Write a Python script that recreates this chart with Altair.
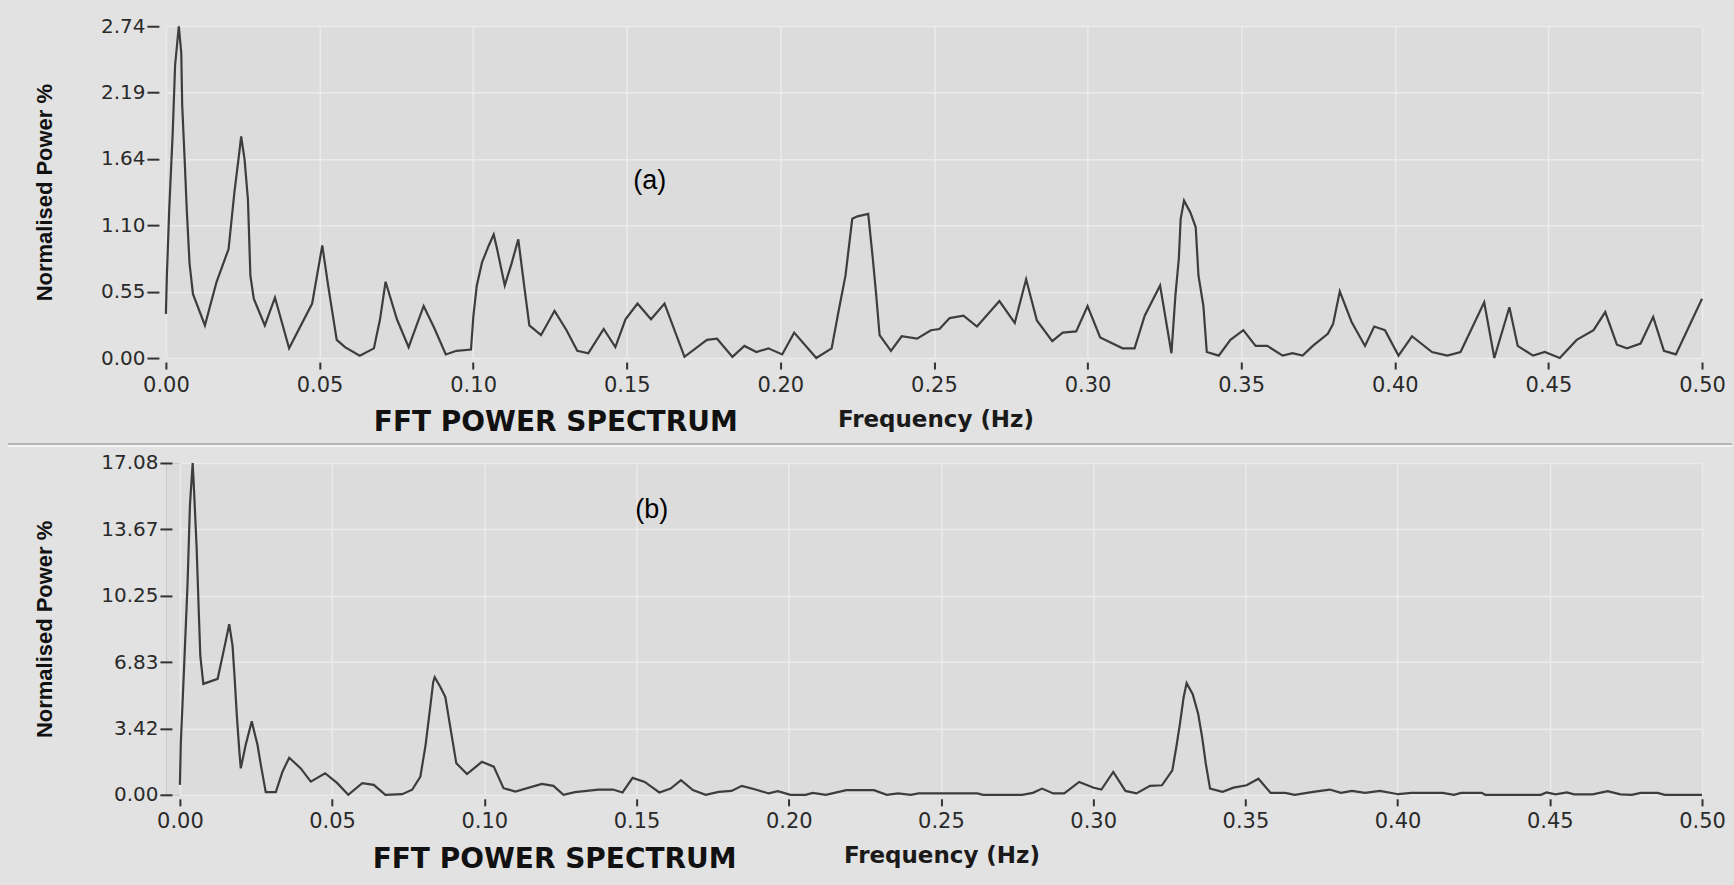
import altair as alt
import pandas as pd

# ---------------- data ----------------
freq_a = [0.0, 0.0003, 0.0011, 0.0022, 0.003, 0.0042, 0.005, 0.0053, 0.0061, 0.0068,
          0.0077, 0.0088, 0.0127, 0.0165, 0.0204, 0.0223, 0.0239, 0.0245, 0.0256, 0.0267,
          0.0275, 0.0286, 0.0322, 0.0355, 0.0401, 0.0476, 0.0509, 0.0528, 0.0556, 0.0583,
          0.0631, 0.0677, 0.0697, 0.0715, 0.0752, 0.0790, 0.0839, 0.0875, 0.0911, 0.0946,
          0.0993, 0.1001, 0.1012, 0.1029, 0.1051, 0.1067, 0.1078, 0.1103, 0.1125, 0.1147,
          0.1166, 0.1183, 0.1221, 0.1265, 0.1304, 0.1339, 0.1375, 0.1425, 0.1463, 0.1496,
          0.1535, 0.1579, 0.1623, 0.1688, 0.1761, 0.1794, 0.1844, 0.1883, 0.1922, 0.1961,
          0.2006, 0.2045, 0.2117, 0.2167, 0.2189, 0.2212, 0.2234, 0.2251, 0.2286, 0.2301,
          0.2312, 0.2323, 0.2360, 0.2395, 0.2445, 0.2490, 0.2518, 0.2551, 0.2596, 0.2640,
          0.2713, 0.2763, 0.2800, 0.2835, 0.2885, 0.2919, 0.2963, 0.3000, 0.3041, 0.3114,
          0.3153, 0.3186, 0.3236, 0.3273, 0.3286, 0.3297, 0.3303, 0.3314, 0.3335, 0.3352,
          0.3361, 0.3377, 0.3388, 0.3427, 0.3465, 0.3507, 0.3547, 0.3585, 0.3635, 0.3667,
          0.3700, 0.3733, 0.3782, 0.3799, 0.3821, 0.3859, 0.3903, 0.3933, 0.3968, 0.4012,
          0.4056, 0.4121, 0.4171, 0.4214, 0.4291, 0.4324, 0.4373, 0.4400, 0.4450, 0.4488,
          0.4537, 0.4592, 0.4647, 0.4685, 0.4723, 0.4756, 0.4800, 0.4841, 0.4876, 0.4915,
          0.5000]
power_a = [0.365, 0.67, 1.24, 1.85, 2.42, 2.74, 2.52, 2.09, 1.64, 1.22,
           0.78, 0.53, 0.27, 0.63, 0.90, 1.37, 1.70, 1.83, 1.64, 1.31,
           0.68, 0.49, 0.27, 0.50, 0.08, 0.45, 0.93, 0.60, 0.15, 0.09,
           0.02, 0.08, 0.32, 0.63, 0.32, 0.09, 0.43, 0.24, 0.03, 0.06,
           0.07, 0.35, 0.60, 0.79, 0.93, 1.02, 0.90, 0.60, 0.78, 0.98,
           0.60, 0.27, 0.19, 0.39, 0.23, 0.06, 0.04, 0.24, 0.09, 0.32,
           0.45, 0.32, 0.45, 0.01, 0.15, 0.16, 0.01, 0.10, 0.05, 0.08,
           0.03, 0.21, 0.00, 0.08, 0.38, 0.68, 1.15, 1.17, 1.19, 0.82,
           0.52, 0.19, 0.06, 0.18, 0.16, 0.23, 0.24, 0.33, 0.35, 0.26,
           0.47, 0.29, 0.65, 0.31, 0.14, 0.21, 0.22, 0.43, 0.17, 0.08,
           0.08, 0.35, 0.60, 0.04, 0.52, 0.82, 1.15, 1.30, 1.20, 1.08,
           0.68, 0.43, 0.05, 0.02, 0.15, 0.23, 0.10, 0.10, 0.02, 0.04,
           0.02, 0.10, 0.20, 0.28, 0.55, 0.30, 0.10, 0.26, 0.23, 0.02,
           0.18, 0.05, 0.02, 0.05, 0.46, 0.00, 0.42, 0.10, 0.02, 0.05,
           0.00, 0.15, 0.23, 0.38, 0.11, 0.08, 0.12, 0.34, 0.06, 0.03,
           0.49]

freq_b = [0.0, 0.0003, 0.0014, 0.0025, 0.0033, 0.0042, 0.0047, 0.0055, 0.0061, 0.0067,
          0.0077, 0.0124, 0.0145, 0.0162, 0.0173, 0.0180, 0.0187, 0.0195, 0.0200, 0.0216,
          0.0236, 0.0255, 0.0266, 0.0282, 0.0315, 0.0337, 0.0359, 0.0397, 0.0430, 0.0477,
          0.0517, 0.0553, 0.0599, 0.0637, 0.0675, 0.0730, 0.0763, 0.0790, 0.0807, 0.0823,
          0.0832, 0.0837, 0.0856, 0.0872, 0.0889, 0.0908, 0.0943, 0.0992, 0.1031, 0.1063,
          0.1102, 0.1189, 0.1227, 0.1260, 0.1298, 0.1375, 0.1423, 0.1454, 0.1487, 0.1527,
          0.1575, 0.1612, 0.1646, 0.1685, 0.1727, 0.1770, 0.1812, 0.1846, 0.1891, 0.1934,
          0.1964, 0.2006, 0.2055, 0.2079, 0.2122, 0.2189, 0.2280, 0.2322, 0.2359, 0.2401,
          0.2426, 0.2620, 0.2638, 0.2766, 0.2802, 0.2832, 0.2869, 0.2905, 0.2954, 0.3002,
          0.3027, 0.3066, 0.3106, 0.3142, 0.3187, 0.3226, 0.3260, 0.3273, 0.3285, 0.3297,
          0.3307, 0.3327, 0.3345, 0.3358, 0.3370, 0.3384, 0.3425, 0.3461, 0.3504, 0.3543,
          0.3583, 0.3631, 0.3662, 0.3723, 0.3777, 0.3814, 0.3850, 0.3893, 0.3942, 0.4002,
          0.4045, 0.4148, 0.4185, 0.4209, 0.4276, 0.4288, 0.4471, 0.4489, 0.4519, 0.4556,
          0.4580, 0.4641, 0.4690, 0.4732, 0.4769, 0.4799, 0.4854, 0.4878, 0.5000]
power_b = [0.51, 2.64, 6.65, 10.8, 14.9, 17.08, 15.5, 12.7, 9.9, 7.16,
           5.71, 5.97, 7.5, 8.78, 7.67, 5.97, 4.09, 2.30, 1.36, 2.56,
           3.78, 2.56, 1.53, 0.14, 0.14, 1.19, 1.91, 1.36, 0.68, 1.11,
           0.60, 0.00, 0.60, 0.51, 0.00, 0.03, 0.26, 0.94, 2.56, 4.60,
           5.80, 6.05, 5.54, 5.03, 3.41, 1.62, 1.07, 1.70, 1.45, 0.34,
           0.17, 0.56, 0.46, 0.00, 0.14, 0.27, 0.27, 0.12, 0.87, 0.66,
           0.12, 0.32, 0.75, 0.24, 0.00, 0.15, 0.20, 0.46, 0.27, 0.07,
           0.19, 0.00, 0.00, 0.10, 0.00, 0.24, 0.24, 0.00, 0.07, 0.00,
           0.07, 0.07, 0.00, 0.00, 0.10, 0.32, 0.07, 0.07, 0.66, 0.36,
           0.27, 1.18, 0.20, 0.07, 0.46, 0.49, 1.26, 2.45, 3.65, 5.01,
           5.75, 5.18, 4.16, 2.96, 1.60, 0.32, 0.15, 0.37, 0.49, 0.83,
           0.10, 0.10, 0.00, 0.15, 0.27, 0.10, 0.20, 0.10, 0.20, 0.03,
           0.10, 0.10, 0.00, 0.10, 0.10, 0.00, 0.00, 0.12, 0.02, 0.12,
           0.02, 0.02, 0.19, 0.02, 0.00, 0.10, 0.10, 0.00, 0.00]

x_ticks = [0.00, 0.05, 0.10, 0.15, 0.20, 0.25, 0.30, 0.35, 0.40, 0.45, 0.50]
y_ticks_a = [0.0, 0.548, 1.096, 1.644, 2.192, 2.74]
y_ticks_b = [0.0, 3.4168, 6.8336, 10.2504, 13.6672, 17.084]

panel_labels = ["(a)", "(b)"]
panel_label_freq = [0.1575, 0.155]
panel_label_power = [1.46, 14.67]
fft_title = "FFT POWER SPECTRUM"
fft_title_freq = [0.1269, 0.1231]
x_title = "Frequency (Hz)"
y_title = "Normalised Power %"

LINE = "#3d3d3d"
PLOT_BG = "#dcdcdc"
PANEL_BG = "#e2e2e2"
GRID = "#ebebeb"
W = 1537


def panel(freq, power, yticks, ymax, x_start, height, y_off,
          label, label_f, label_p, fft_f, xtitle_center, separator=False):
    df = pd.DataFrame({"f": freq, "p": power})
    x_off = 4
    x_enc = alt.X(
        "f:Q",
        scale=alt.Scale(domain=[0, 0.5], range=[x_start, W], nice=False, zero=False),
        axis=alt.Axis(
            values=x_ticks, format=".2f", title=x_title,
            offset=x_off, tickSize=7, tickWidth=2, tickColor="#333333",
            labelPadding=5, labelFont="DejaVu Sans", labelFontSize=21,
            labelColor="#2a2a2a", labelFlush=False, domain=False,
            grid=True, gridColor=GRID, gridWidth=1.5,
            titleFont="DejaVu Sans", titleFontWeight="bold", titleFontSize=23,
            titleColor="#1a1a1a", titleX=xtitle_center, titleY=61 - x_off,
            titleAlign="center", titleBaseline="middle",
        ),
    )
    y_enc = alt.Y(
        "p:Q",
        scale=alt.Scale(domain=[0, ymax], nice=False, zero=True),
        axis=alt.Axis(
            values=yticks, format=".2f", title=y_title,
            offset=y_off, tickSize=12, tickWidth=2, tickColor="#333333",
            labelPadding=2, labelFont="DejaVu Sans", labelFontSize=20,
            labelColor="#2a2a2a", domain=False,
            grid=True, gridColor=GRID, gridWidth=1.5,
            titleFont="Liberation Sans, Arial, sans-serif",
            titleFontWeight="bold", titleFontSize=22, titleColor="#111111",
            titleAngle=270, titleAlign="center", titleBaseline="middle",
            titleX=-121 + y_off, titleY=height / 2,
        ),
    )
    layers = []
    if separator:
        # panel frame line between the two instrument panels
        layers.append(alt.Chart(pd.DataFrame({"k": [0]})).mark_rule(
            color="#b4b4b4", strokeWidth=2).encode(
            x=alt.value(-158), x2=alt.value(1567), y=alt.value(-19)))
        layers.append(alt.Chart(pd.DataFrame({"k": [0]})).mark_rule(
            color="#f4f4f4", strokeWidth=2).encode(
            x=alt.value(-158), x2=alt.value(1567), y=alt.value(-17)))
    line = alt.Chart(df).mark_line(color=LINE, strokeWidth=2.2).encode(x=x_enc, y=y_enc)
    lab = alt.Chart(pd.DataFrame({"f": [label_f], "p": [label_p], "t": [label]})).mark_text(
        font="Liberation Sans, Arial, sans-serif", fontSize=27, color="#000000",
        align="center", baseline="middle",
    ).encode(x="f:Q", y="p:Q", text="t:N")
    fft = alt.Chart(pd.DataFrame({"f": [fft_f], "t": [fft_title]})).mark_text(
        font="DejaVu Sans", fontWeight="bold", fontSize=28, color="#111111",
        align="center", baseline="middle",
    ).encode(x="f:Q", y=alt.value(height + 65), text="t:N")
    return alt.layer(line, lab, fft, *layers).properties(width=W, height=height)


top = panel(freq_a, power_a, y_ticks_a, 2.74, 0, 332, 7,
            panel_labels[0], panel_label_freq[0], panel_label_power[0],
            fft_title_freq[0], 770)
bottom = panel(freq_b, power_b, y_ticks_b, 17.084, 14, 332, -6,
               panel_labels[1], panel_label_freq[1], panel_label_power[1],
               fft_title_freq[1], 776, separator=True)

chart = alt.concat(top, bottom, columns=1, spacing=4).properties(
    background=PANEL_BG,
    padding={"left": 6, "top": 15, "right": 0, "bottom": 14},
).configure_view(
    fill=PLOT_BG, stroke="#c9c9c9", strokeWidth=1
)

chart.save("out.html", embed_options={"renderer": "svg", "actions": False})
